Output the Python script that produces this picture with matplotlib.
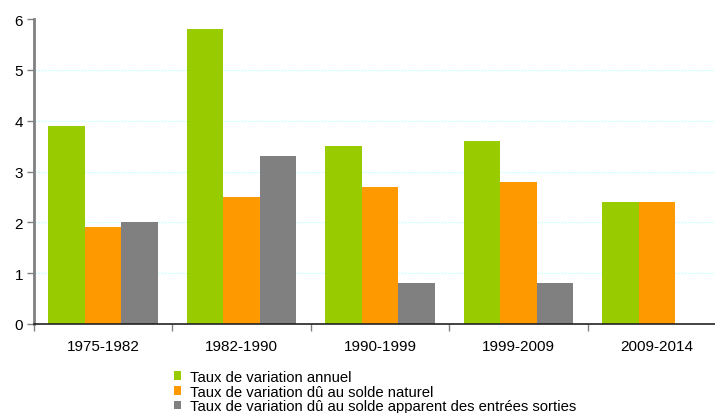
import numpy as np
import matplotlib.pyplot as plt
from matplotlib.patches import Patch

plt.rcParams['font.family'] = ['Liberation Sans', 'DejaVu Sans']

periods = ['1975-1982', '1982-1990', '1990-1999', '1999-2009', '2009-2014']
annuel = [3.9, 5.8, 3.5, 3.6, 2.4]
naturel = [1.9, 2.5, 2.7, 2.8, 2.4]
migratoire = [2.0, 3.3, 0.8, 0.8, np.nan]
labels = ['Taux de variation annuel',
          'Taux de variation dû au solde naturel',
          'Taux de variation dû au solde apparent des entrées sorties']
colors = ['#99cc00', '#ff9900', '#808080']

fig = plt.figure(figsize=(7.15, 4.14), dpi=100)
# axes goes a little past the right edge, as in the original
ax = fig.add_axes([34/715, 89/414, 692/715, 305/414])

x = np.arange(len(periods))
w = 0.264
for k, (vals, c) in enumerate(zip([annuel, naturel, migratoire], colors)):
    ax.bar(x + (k - 1) * w, vals, width=w, color=c, zorder=2, linewidth=0)

ax.set_xlim(-0.5, len(periods) - 0.5)
ax.set_ylim(0, 6)
ax.set_yticks(range(7))
for y in range(1, 6):
    ax.axhline(y, color='#ccffff', lw=0.8, ls=(0, (2, 1)), zorder=1)

ax.set_xticks(np.arange(-0.5, len(periods)), minor=False)
ax.set_xticklabels([])
ax.set_xticks(x, minor=True)
ax.set_xticklabels(periods, minor=True)
ax.tick_params(axis='x', which='minor', length=0, pad=11, labelsize=11)
ax.tick_params(axis='x', which='major', length=5, color='#808080', width=1)
ax.tick_params(axis='y', length=5, color='#808080', width=1, labelsize=11, pad=3)

for s in ['top', 'right']:
    ax.spines[s].set_visible(False)
ax.spines['left'].set_color('#808080')
ax.spines['left'].set_linewidth(2)
ax.spines['bottom'].set_color('#222222')
ax.spines['bottom'].set_linewidth(1.2)

handles = [Patch(facecolor=c, edgecolor='none') for c in colors]
fig.legend(handles, labels, loc='upper left', bbox_to_anchor=(174/715, 1 - 371/414),
           frameon=False, fontsize=10.7, handlelength=0.5, handleheight=0.5,
           handletextpad=0.55, labelspacing=0.05, borderpad=0, borderaxespad=0)

fig.savefig('out.png', dpi=100)
